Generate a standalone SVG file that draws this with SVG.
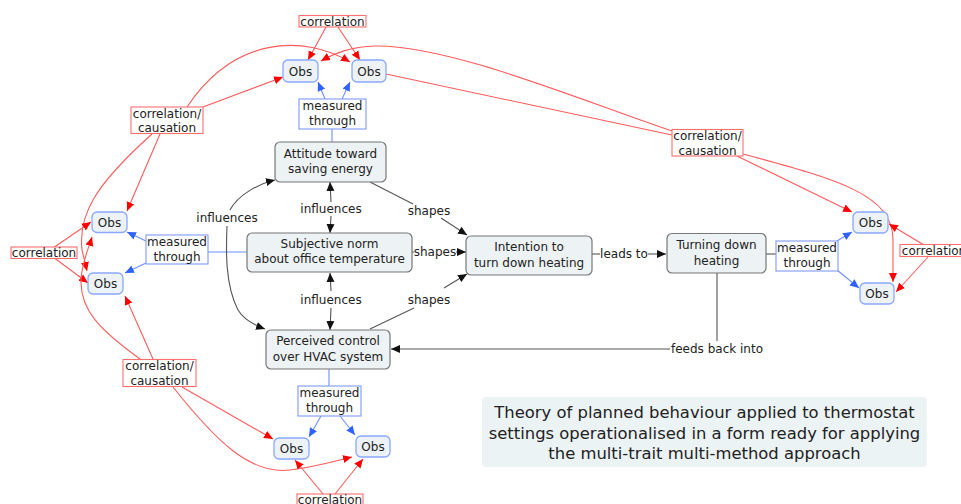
<svg xmlns="http://www.w3.org/2000/svg" width="961" height="504" viewBox="0 0 961 504">
  <style>
    text { font-family: "DejaVu Sans", Verdana, sans-serif; font-size: 12px; fill: #222; text-anchor: middle; }
    .title { font-size: 16.4px; }
    .concept { fill: #edf2f4; stroke: #777; stroke-width: 1.2; }
    .obs { fill: #edf2f6; stroke: #8aa8ff; stroke-width: 1.3; }
    .lbl-red { fill: #fff; stroke: #ff6e6e; stroke-width: 1.1; }
    .lbl-blue { fill: #fff; stroke: #7f9cff; stroke-width: 1.1; }
    .red { fill: none; stroke: #ff5a5a; stroke-width: 1.1; }
    .blue { fill: none; stroke: #6d8fff; stroke-width: 1.1; }
    .grey { fill: none; stroke: #555; stroke-width: 1.1; }
    .ar-red { marker-end: url(#mRed); }
    .ar-blue { marker-end: url(#mBlue); }
    .ar-black { marker-end: url(#mBlack); }
    .ar-both { marker-start: url(#mBlack); marker-end: url(#mBlack); }
  </style>
  <defs>
    <marker id="mRed" markerUnits="userSpaceOnUse" markerWidth="10" markerHeight="10" viewBox="0 0 10 10" refX="9" refY="5" orient="auto-start-reverse">
      <path d="M0,1 L9,5 L0,9 Z" fill="#ff0000"/>
    </marker>
    <marker id="mBlue" markerUnits="userSpaceOnUse" markerWidth="10" markerHeight="10" viewBox="0 0 10 10" refX="9" refY="5" orient="auto-start-reverse">
      <path d="M0,1 L9,5 L0,9 Z" fill="#2f62ff"/>
    </marker>
    <marker id="mBlack" markerUnits="userSpaceOnUse" markerWidth="10" markerHeight="10" viewBox="0 0 10 10" refX="9" refY="5" orient="auto-start-reverse">
      <path d="M0,1 L9,5 L0,9 Z" fill="#111"/>
    </marker>
  </defs>

  <!-- connectors -->
  <g id="connectors">
    <!-- red: correlation / causation links -->
    <path class="red ar-red" d="M326,27 L308,60"/>
    <path class="red ar-red" d="M338,27 L360,60"/>
    <path class="red ar-red" d="M187,107 C235,35 305,35 350,62"/>
    <path class="red ar-red" d="M203,107 L283,77"/>
    <path class="red ar-red" d="M672,131 C580,100 450,45 375,46 C350,47 335,53 321,61"/>
    <path class="red" d="M386,74 L672,135"/>
    <path class="red ar-red" d="M737,156 L852,212"/>
    <path class="red ar-red" d="M743,154 C840,180 893,195 893,240 L893,282"/>
    <path class="red ar-red" d="M924,245 L889,224"/>
    <path class="red ar-red" d="M928,257 L896,292"/>
    <path class="red ar-red" d="M160,134 L127,211"/>
    <path class="red ar-red" d="M152,134 C95,185 78,215 82,250 L87,271"/>
    <path class="red ar-red" d="M53,248 L91,222"/>
    <path class="red ar-red" d="M53,257 L88,283"/>
    <path class="red ar-red" d="M140,359 C100,330 80,310 81,280 C82,262 88,250 92,237"/>
    <path class="red ar-red" d="M153,359 L125,296"/>
    <path class="red ar-red" d="M182,387 L273,439"/>
    <path class="red ar-red" d="M173,387 C215,440 250,475 290,470 C315,467 335,461 352,457"/>
    <path class="red ar-red" d="M323,494 L295,460"/>
    <path class="red ar-red" d="M335,494 L363,459"/>

    <!-- blue: measured through -->
    <path class="blue" d="M332,142 L332,129"/>
    <path class="blue ar-blue" d="M325,99 L318,82"/>
    <path class="blue ar-blue" d="M342,99 L350,82"/>
    <path class="blue" d="M247,252 L208,252"/>
    <path class="blue ar-blue" d="M146,241 L127,232"/>
    <path class="blue ar-blue" d="M146,263 L125,273"/>
    <path class="blue" d="M329,369 L329,386"/>
    <path class="blue ar-blue" d="M321,416 L309,437"/>
    <path class="blue ar-blue" d="M340,416 L355,435"/>
    <path class="grey" d="M766,254 L776,254"/>
    <path class="blue ar-blue" d="M837,241 L852,232"/>
    <path class="blue ar-blue" d="M837,270 L859,288"/>

    <!-- black: theory links -->
    <path class="grey" marker-start="url(#mBlack)" d="M330,182 L331,202"/>
    <path class="grey ar-black" d="M331,216 L330,233"/>
    <path class="grey" marker-start="url(#mBlack)" d="M330,273 L331,291"/>
    <path class="grey ar-black" d="M331,308 L330,330"/>
    <path class="grey" marker-start="url(#mBlack)" d="M275,180 C258,184 238,195 230,210"/>
    <path class="grey ar-black" d="M227,226 C226,250 225,285 238,310 C244,320 254,325 265,329"/>
    <path class="grey" d="M370,182 L413,204"/>
    <path class="grey ar-black" d="M441,218 L467,235"/>
    <path class="grey" d="M412,252 L414,252"/>
    <path class="grey ar-black" d="M456,252 L466,252"/>
    <path class="grey" d="M370,329 L414,308"/>
    <path class="grey ar-black" d="M444,288 L467,274"/>
    <path class="grey" d="M592,254 L600,254"/>
    <path class="grey ar-black" d="M648,254 L666,254"/>
    <path class="grey" d="M717,273 L717,341"/>
    <path class="grey ar-black" d="M670,349 L391,349"/>
  </g>

  <!-- link phrases (plain) -->
  <g id="phrases">
    <text x="227" y="222">influences</text>
    <text x="331" y="213">influences</text>
    <text x="331" y="304">influences</text>
    <text x="429" y="215">shapes</text>
    <text x="435" y="256">shapes</text>
    <text x="429" y="304">shapes</text>
    <text x="624" y="258">leads to</text>
    <text x="717" y="353">feeds back into</text>
  </g>

  <!-- red link labels -->
  <g id="corr-top"><rect class="lbl-red" x="299" y="15.5" width="67" height="11.5"/><text x="332.5" y="25.5">correlation</text></g>
  <g id="cc-topleft"><rect class="lbl-red" x="131" y="107" width="72" height="26.5"/><text x="167" y="117.5">correlation/</text><text x="167" y="132">causation</text></g>
  <g id="cc-right"><rect class="lbl-red" x="672" y="129.5" width="71" height="26.5"/><text x="707.5" y="140">correlation/</text><text x="707.5" y="154.5">causation</text></g>
  <g id="corr-left"><rect class="lbl-red" x="11" y="247" width="66" height="11.5"/><text x="44" y="257">correlation</text></g>
  <g id="corr-right"><rect class="lbl-red" x="900" y="244.5" width="70" height="12"/><text x="934" y="254.5">correlation</text></g>
  <g id="cc-bottom"><rect class="lbl-red" x="123" y="359.5" width="73" height="27"/><text x="159.5" y="370">correlation/</text><text x="159.5" y="385">causation</text></g>
  <g id="corr-bottom"><rect class="lbl-red" x="297" y="494" width="66" height="14"/><text x="330" y="504">correlation</text></g>

  <!-- blue link labels -->
  <g id="mt-top"><rect class="lbl-blue" x="299" y="99" width="67" height="30"/><text x="332.5" y="110">measured</text><text x="332.5" y="125">through</text></g>
  <g id="mt-left"><rect class="lbl-blue" x="146" y="235" width="62" height="29"/><text x="177" y="246">measured</text><text x="177" y="261">through</text></g>
  <g id="mt-bottom"><rect class="lbl-blue" x="298" y="386" width="63" height="30"/><text x="329.5" y="397">measured</text><text x="329.5" y="412">through</text></g>
  <g id="mt-right"><rect class="lbl-blue" x="776" y="241" width="62" height="30"/><text x="807" y="251.5">measured</text><text x="807" y="266.5">through</text></g>

  <!-- concepts -->
  <g id="attitude"><rect class="concept" x="275" y="142" width="111" height="40" rx="5"/><text x="330.5" y="157.5">Attitude toward</text><text x="330.5" y="172.5">saving energy</text></g>
  <g id="subjective-norm"><rect class="concept" x="247" y="233" width="165" height="39" rx="5"/><text x="329.5" y="247.5">Subjective norm</text><text x="329.5" y="263">about office temperature</text></g>
  <g id="intention"><rect class="concept" x="466" y="236" width="126" height="39" rx="5"/><text x="529" y="251">Intention to</text><text x="529" y="266.5">turn down heating</text></g>
  <g id="turning-down"><rect class="concept" x="667" y="233.5" width="99" height="39.5" rx="5"/><text x="716.5" y="249">Turning down</text><text x="716.5" y="265">heating</text></g>
  <g id="perceived-control"><rect class="concept" x="266" y="330" width="124" height="39" rx="5"/><text x="328" y="345">Perceived control</text><text x="328" y="360.5">over HVAC system</text></g>

  <!-- observed measures -->
  <g id="obs-top-1"><rect class="obs" x="283" y="60" width="35" height="22" rx="5"/><text x="300.5" y="75.5">Obs</text></g>
  <g id="obs-top-2"><rect class="obs" x="352" y="60" width="34" height="22" rx="5"/><text x="369" y="75.5">Obs</text></g>
  <g id="obs-left-1"><rect class="obs" x="92" y="212" width="35" height="20.5" rx="5"/><text x="109.5" y="226.5">Obs</text></g>
  <g id="obs-left-2"><rect class="obs" x="88" y="273" width="35" height="21" rx="5"/><text x="105.5" y="288">Obs</text></g>
  <g id="obs-bottom-1"><rect class="obs" x="274" y="438" width="35" height="21" rx="5"/><text x="291.5" y="453">Obs</text></g>
  <g id="obs-bottom-2"><rect class="obs" x="356" y="436" width="34" height="21" rx="5"/><text x="373" y="451">Obs</text></g>
  <g id="obs-right-1"><rect class="obs" x="853" y="212" width="35" height="21" rx="5"/><text x="870.5" y="227">Obs</text></g>
  <g id="obs-right-2"><rect class="obs" x="860" y="283" width="34" height="21" rx="5"/><text x="877" y="298">Obs</text></g>

  <!-- caption -->
  <g id="caption">
    <rect x="482" y="397" width="445" height="70" rx="4" fill="#ecf3f5"/>
    <text class="title" x="704.5" y="418">Theory of planned behaviour applied to thermostat</text>
    <text class="title" x="704.5" y="438.5">settings operationalised in a form ready for applying</text>
    <text class="title" x="704.5" y="459">the multi-trait multi-method approach</text>
  </g>
</svg>
